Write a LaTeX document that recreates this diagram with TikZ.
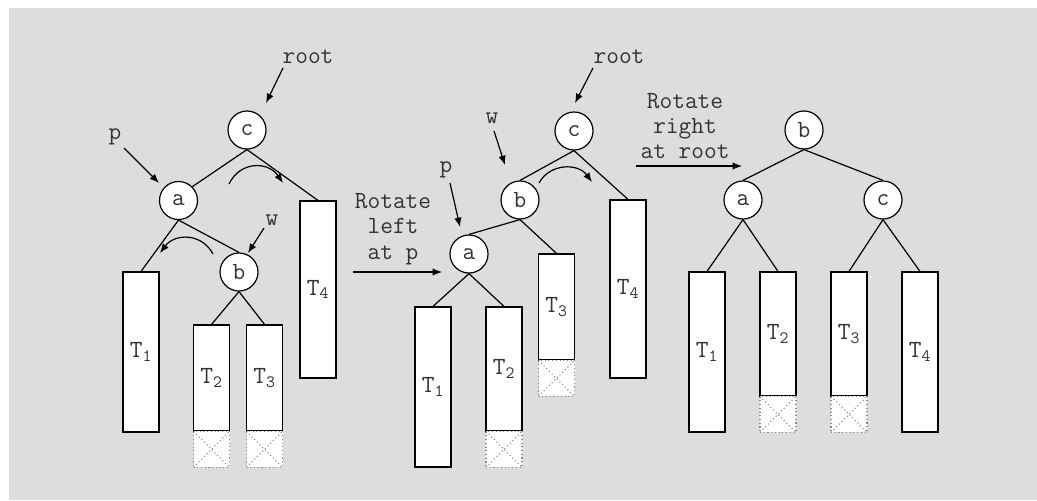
\documentclass[tikz,border=0pt]{standalone}
\usepackage{fontspec}
\usetikzlibrary{arrows.meta}
\definecolor{bggray}{HTML}{DCDDDF}
\definecolor{txt}{HTML}{333333}
\definecolor{dotgray}{HTML}{8A8A8A}
\tikzset{
  every node/.style={font=\ttfamily\fontsize{18.5pt}{19pt}\selectfont, text=txt},
  circ/.style={circle, draw=black, fill=white, line width=0.9pt, minimum size=28.5pt, inner sep=0pt},
  leaf/.style={rectangle, draw=black, fill=white, line width=0.9pt, minimum width=27pt, inner sep=0pt},
  nullbox/.style={rectangle, draw=dotgray, dotted, fill=white, line width=0.8pt, minimum width=27pt, minimum height=27pt, inner sep=0pt, anchor=north, yshift=0.6pt,
    path picture={\draw[dotgray, dotted, line width=0.8pt] (path picture bounding box.north west) -- (path picture bounding box.south east) (path picture bounding box.south west) -- (path picture bounding box.north east);}},
  conn/.style={draw=black, line width=0.9pt},
  ptr/.style={draw=black, line width=0.9pt, -{Latex[length=7pt,width=5.5pt]}},
  lbl/.style={inner sep=0pt}
}
\begin{document}
\begin{tikzpicture}[x=0.75pt, y=-0.75pt]
\useasboundingbox (0,0) rectangle (1037,500);
\fill[white] (0,0) rectangle (1037,500);
\fill[bggray] (9,8) rectangle (1037,500);

% ---------- Tree 1 ----------
\node[circ] (c1) at (247,130) {c};
\node[circ] (a1) at (178.5,200.5) {a};
\node[circ] (b1) at (239,272) {b};
\node[leaf, minimum height=120pt] (T11) at (141,352) {T\textsubscript{1}};
\node[leaf, minimum height=79.5pt] (T21) at (211.5,378) {T\textsubscript{2}};
\node[leaf, minimum height=79.5pt] (T31) at (264.5,378) {T\textsubscript{3}};
\node[leaf, minimum height=132.75pt] (T41) at (318,289.5) {T\textsubscript{4}};
\node[nullbox] (N21) at (T21.south) {};
\node[nullbox] (N31) at (T31.south) {};
\draw[conn] (c1.south) -- (a1.north east);
\draw[conn] (c1.south) -- (T41.north);
\draw[conn] (a1.south) -- (T11.north);
\draw[conn] (a1.south) -- (b1.north);
\draw[conn] (b1.south) -- (T21.north);
\draw[conn] (b1.south) -- (T31.north);

\node[lbl] (root1) at (308,57) {root};
\coordinate (r1s) at (283,68); \coordinate (r1e) at (266,103);
\draw[ptr] (r1s) -- (r1e);
\node[lbl] (p1) at (115,137) {p};
\coordinate (p1s) at (124,148); \coordinate (p1e) at (159,183);
\draw[ptr] (p1s) -- (p1e);
\node[lbl] (w1) at (272,220) {w};
\coordinate (w1s) at (264,228); \coordinate (w1e) at (248,253);
\draw[ptr] (w1s) -- (w1e);
\coordinate (k1s) at (229,184); \coordinate (k1e) at (283,183);
\draw[ptr] (k1s) .. controls (240,161) and (268,161) .. (k1e);
\coordinate (k2s) at (213,254); \coordinate (k2e) at (160,253);
\draw[ptr] (k2s) .. controls (202,233) and (175,233) .. (k2e);

% ---------- rotate left ----------
\node[lbl, align=center] (rl) at (393,229) {Rotate\\left\\at p};
\coordinate (rls) at (353,272); \coordinate (rle) at (442,272);
\draw[ptr] (rls) -- (rle);

% ---------- Tree 2 ----------
\node[circ] (c2) at (574,131) {c};
\node[circ] (b2) at (520,200) {b};
\node[circ] (a2) at (469,254) {a};
\node[leaf, minimum height=120pt] (T12) at (433,387) {T\textsubscript{1}};
\node[leaf, minimum height=93pt] (T22) at (504,369) {T\textsubscript{2}};
\node[leaf, minimum height=79.5pt] (T32) at (556.5,307) {T\textsubscript{3}};
\node[leaf, minimum height=133.5pt] (T42) at (628,289) {T\textsubscript{4}};
\node[nullbox] (N22) at (T22.south) {};
\node[nullbox] (N32) at (T32.south) {};
\draw[conn] (c2.south) -- (b2.north);
\draw[conn] (c2.south) -- (T42.north);
\draw[conn] (b2.south) -- (a2.north);
\draw[conn] (b2.south) -- (T32.north);
\draw[conn] (a2.south) -- (T12.north);
\draw[conn] (a2.south) -- (T22.north);

\node[lbl] (root2) at (619,57) {root};
\coordinate (r2s) at (593,68); \coordinate (r2e) at (575,103);
\draw[ptr] (r2s) -- (r2e);
\node[lbl] (w2) at (492,118) {w};
\coordinate (w2s) at (494,131); \coordinate (w2e) at (505,165);
\draw[ptr] (w2s) -- (w2e);
\node[lbl] (p2) at (446,170) {p};
\coordinate (p2s) at (450,183); \coordinate (p2e) at (460,227);
\draw[ptr] (p2s) -- (p2e);
\coordinate (k3s) at (539,183); \coordinate (k3e) at (592,182);
\draw[ptr] (k3s) .. controls (550,163) and (578,163) .. (k3e);

% ---------- rotate right ----------
\node[lbl, align=center] (rr) at (685,126) {Rotate\\right\\at root};
\coordinate (rrs) at (636,166); \coordinate (rre) at (742,166);
\draw[ptr] (rrs) -- (rre);

% ---------- Tree 3 ----------
\node[circ] (b3) at (804,130) {b};
\node[circ] (a3) at (743,200) {a};
\node[circ] (c3) at (883,200) {c};
\node[leaf, minimum height=120pt] (T13) at (707,352) {T\textsubscript{1}};
\node[leaf, minimum height=93pt] (T23) at (778,334) {T\textsubscript{2}};
\node[leaf, minimum height=93pt] (T33) at (849,334) {T\textsubscript{3}};
\node[leaf, minimum height=120pt] (T43) at (920,352) {T\textsubscript{4}};
\node[nullbox] (N23) at (T23.south) {};
\node[nullbox] (N33) at (T33.south) {};
\draw[conn] (b3.south) -- (a3.north);
\draw[conn] (b3.south) -- (c3.north);
\draw[conn] (a3.south) -- (T13.north);
\draw[conn] (a3.south) -- (T23.north);
\draw[conn] (c3.south) -- (T33.north);
\draw[conn] (c3.south) -- (T43.north);
\end{tikzpicture}
\end{document}
